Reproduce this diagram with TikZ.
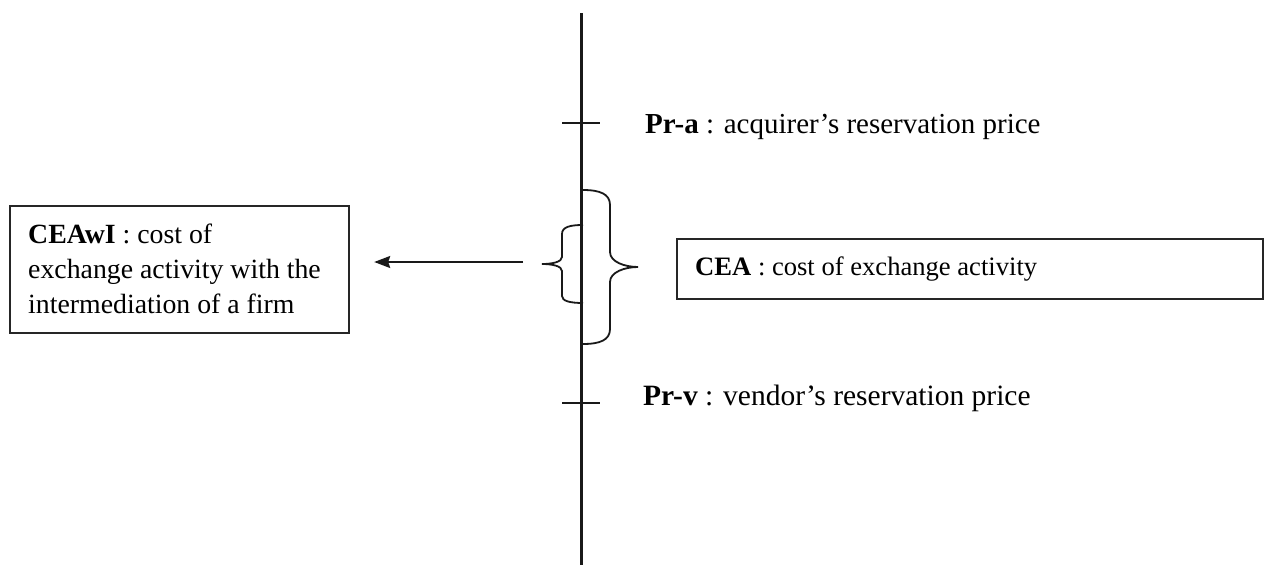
\documentclass[tikz,border=0pt]{standalone}
\usepackage{fontspec}
\setmainfont{Liberation Serif}
\usetikzlibrary{arrows.meta}
\tikzset{
  axisline/.style={line width=3pt, draw=black!90},
  tickline/.style={line width=1.8pt, draw=black!90},
  bracepath/.style={line width=1.8pt, draw=black!90},
  boxstyle/.style={draw=black!85, line width=2.2pt, inner sep=0pt},
  lbl/.style={anchor=base west, inner sep=0pt},
  arrowline/.style={line width=1.8pt, draw=black!90, -{Stealth[length=16pt,width=12pt,inset=2pt]}}
}
\begin{document}
\begin{tikzpicture}[x=1pt,y=-1pt]
\useasboundingbox (0,0) rectangle (1264,565);
% axis
\coordinate (top) at (581,13);
\coordinate (bot) at (581,565);
\draw[axisline] (top) -- (bot);
% ticks
\coordinate (ta1) at (562,123);
\coordinate (ta2) at (600,123);
\coordinate (tv1) at (562,403);
\coordinate (tv2) at (600,403);
\draw[tickline] (ta1) -- (ta2);
\draw[tickline] (tv1) -- (tv2);
% labels
\node[lbl, font=\fontsize{29}{35}\selectfont] (pra) at (645,133) {\textbf{Pr-a} : acquirer’s reservation price};
\node[lbl, font=\fontsize{29.5}{35}\selectfont] (prv) at (643,405) {\textbf{Pr-v} : vendor’s reservation price};
% large brace
\draw[bracepath] (583,190) .. controls (600,190) and (610,194) .. (610,205) -- (610,252) .. controls (610,262) and (625,267) .. (638,267) .. controls (625,267) and (610,272) .. (610,282) -- (610,329) .. controls (610,340) and (600,344) .. (583,344);
% small brace
\draw[bracepath] (583,225) .. controls (570,225) and (562,227) .. (562,234) -- (562,257) .. controls (562,262) and (552,264) .. (542,264) .. controls (552,264) and (562,266) .. (562,271) -- (562,296) .. controls (562,301) and (570,303) .. (583,303);
% right box
\node[boxstyle, anchor=north west, minimum width=586pt, minimum height=60pt] (cea) at (676,238) {};
\node[lbl, font=\fontsize{26.6}{33}\selectfont] (ceatext) at (695,275) {\textbf{CEA} : cost of exchange activity};
% left box
\node[boxstyle, anchor=north west, minimum width=339pt, minimum height=127pt] (ceawi) at (9,205) {};
\node[lbl, align=left, font=\fontsize{27.8}{35}\selectfont] (ceawitext) at (28,313) {\textbf{CEAwI} : cost of\\exchange activity with the\\intermediation of a firm};
% arrow
\coordinate (astart) at (523,262);
\coordinate (aend) at ([xshift=24pt]ceawi.east |- astart);
\draw[arrowline] (astart) -- (aend);
\end{tikzpicture}
\end{document}
